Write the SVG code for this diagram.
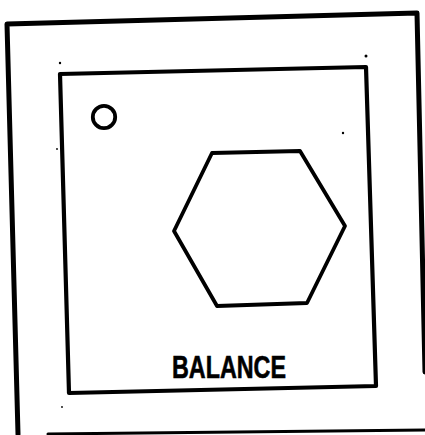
<svg xmlns="http://www.w3.org/2000/svg" width="425" height="435" viewBox="0 0 425 435">
<style>
.ln{fill:none;stroke:#000;stroke-linecap:round;stroke-linejoin:round}
.lbl{font-family:"Liberation Sans",Arial,sans-serif;font-weight:bold;fill:#000;stroke:#000;stroke-width:0.6}
</style>
<rect width="425" height="435" fill="#fff"/>
<g id="outer-frame">
<path class="ln" stroke-width="5" d="M18,434 L7,24 L417,13 L425,372"/>
<path class="ln" stroke-width="3" d="M48,434 L425,430"/>
</g>
<g id="inner-panel">
<path class="ln" stroke-width="4.2" d="M60,74 L366,67 L376,386 L69,393 Z"/>
</g>
<g id="indicator">
<circle class="ln" stroke-width="3.8" cx="104" cy="117" r="11.2"/>
</g>
<g id="hexagon">
<polygon class="ln" stroke-width="3.8" points="212,153 300,151 345,226 307,303 217,306 174,231"/>
</g>
<g id="label">
<text class="lbl" x="172" y="378" font-size="32" textLength="114" lengthAdjust="spacingAndGlyphs">BALANCE</text>
</g>
<g id="specks" fill="#000">
<circle cx="60" cy="63" r="1.2"/>
<circle cx="366" cy="56" r="1.5"/>
<circle cx="343" cy="133" r="1.2"/>
<circle cx="57" cy="149" r="0.9"/>
<circle cx="62" cy="407" r="0.9"/>
</g>
</svg>
